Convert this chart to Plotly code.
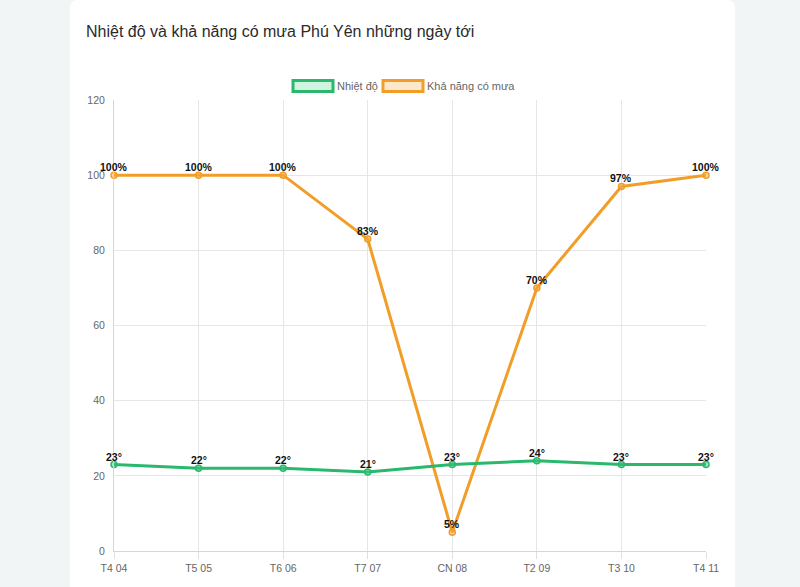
import plotly.graph_objects as go

days = ["T4 04", "T5 05", "T6 06", "T7 07", "CN 08", "T2 09", "T3 10", "T4 11"]
temp = [23, 22, 22, 21, 23, 24, 23, 23]
rain = [100, 100, 100, 83, 5, 70, 97, 100]
y_ticks = [0, 20, 40, 60, 80, 100, 120]

W, H = 800, 587
L, R, T, B = 114, 706, 100, 551  # plot area in pixels

def px(x):
    return (x - L) / (R - L)

def py(y):
    return (B - y) / (B - T)

GREEN = "#29b86c"
ORANGE = "#f29d27"
FONT = "Liberation Sans, Arial, Helvetica, sans-serif"

fig = go.Figure()
fig.add_trace(go.Scatter(
    x=days, y=rain, name="Khả năng có mưa", mode="lines+markers",
    line=dict(color=ORANGE, width=3),
    marker=dict(size=6, color="rgba(243,170,70,0.45)", line=dict(color=ORANGE, width=1.5)),
    cliponaxis=False, showlegend=False,
))
fig.add_trace(go.Scatter(
    x=days, y=temp, name="Nhiệt độ", mode="lines+markers",
    line=dict(color=GREEN, width=3),
    marker=dict(size=6, color="rgba(60,200,120,0.45)", line=dict(color=GREEN, width=1.5)),
    cliponaxis=False, showlegend=False,
))

annotations = []
# data labels
for series, suffix in ((rain, "%"), (temp, "°")):
    for d, v in zip(days, series):
        annotations.append(dict(x=d, y=v, xref="x", yref="y", text=f"<b>{v}{suffix}</b>",
                                showarrow=False, xanchor="center", yanchor="bottom", yshift=0,
                                font=dict(family=FONT, size=10.5, color="#111")))

# white card with rounded top corners
r = 8
cx0, cx1, cy0, cy1 = 70, 735, 0, 620
path = (f"M {px(cx0)},{py(cy1)} L {px(cx0)},{py(cy0 + r)} "
        f"Q {px(cx0)},{py(cy0)} {px(cx0 + r)},{py(cy0)} "
        f"L {px(cx1 - r)},{py(cy0)} Q {px(cx1)},{py(cy0)} {px(cx1)},{py(cy0 + r)} "
        f"L {px(cx1)},{py(cy1)} Z")
shapes = [dict(type="path", xref="paper", yref="paper", path=path,
               fillcolor="white", line=dict(width=0), layer="below")]

# legend boxes (Chart.js style)
legend_items = [
    ("Nhiệt độ", GREEN, "rgba(46,204,113,0.22)", 293, 336),
    ("Khả năng có mưa", ORANGE, "rgba(243,156,18,0.22)", 383, 426),
]
for label, col, fill, bx, tx in legend_items:
    shapes.append(dict(type="rect", xref="paper", yref="paper",
                       x0=px(bx), x1=px(bx + 40), y0=py(91.5), y1=py(80.5),
                       fillcolor=fill, line=dict(color=col, width=3)))
    annotations.append(dict(xref="paper", yref="paper", x=px(tx), y=py(86),
                            text=label, showarrow=False, xanchor="left", yanchor="middle",
                            xshift=-1, font=dict(family=FONT, size=11, color="#666")))

annotations.append(dict(xref="paper", yref="paper", x=px(84), y=py(32),
                        text="Nhiệt độ và khả năng có mưa Phú Yên những ngày tới",
                        showarrow=False, xanchor="left", yanchor="middle",
                        font=dict(family=FONT, size=16, color="#2a2a2a")))

fig.update_layout(
    width=W, height=H,
    margin=dict(l=L, r=W - R, t=T, b=H - B),
    paper_bgcolor="#f2f5f6", plot_bgcolor="white",
    shapes=shapes, annotations=annotations, showlegend=False,
    xaxis=dict(range=[0, 7], showgrid=True, gridcolor="#e6e6e6", gridwidth=1,
               showline=True, linecolor="#d6d6d6", linewidth=1,
               ticks="outside", ticklen=7, tickcolor="#e0e0e0",
               tickfont=dict(family=FONT, size=10.5, color="#666"), zeroline=False,
               fixedrange=True),
    yaxis=dict(range=[0, 120], tickvals=y_ticks, showgrid=True, gridcolor="#e6e6e6",
               showline=True, linecolor="#d6d6d6", linewidth=1, zeroline=False,
               ticks="", ticklabelstandoff=6,
               tickfont=dict(family=FONT, size=10.5, color="#666")),
)

fig.write_html("out.html")
